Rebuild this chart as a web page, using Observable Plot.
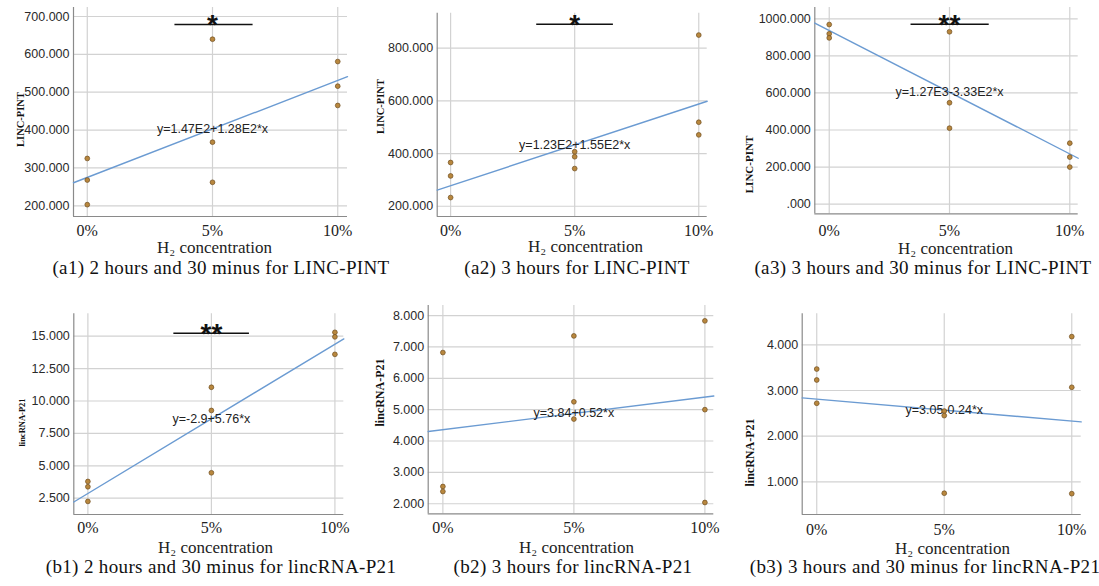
<!DOCTYPE html>
<html>
<head>
<meta charset="utf-8">
<script src="https://cdn.jsdelivr.net/npm/d3@7"></script>
<script src="https://cdn.jsdelivr.net/npm/@observablehq/plot@0.6"></script>
<style>
  html, body { margin: 0; padding: 0; background: #fff; }
  body { width: 1099px; height: 586px; position: relative; overflow: hidden; }
  .panel { position: absolute; }
  .panel svg { display: block; max-width: none; }
  .cap { position: absolute; font-family: "Liberation Serif", serif; font-size: 19px; letter-spacing: 0.35px;
         color: #111; white-space: nowrap; transform: translate(-50%, -50%); line-height: 1; }
  g[aria-label="x-title"] text { letter-spacing: 0.4px; }
</style>
</head>
<body>
<script>
// ---------------- data ----------------
const concentrations = [0, 5, 10];
const xTickLabels = ["0%", "5%", "10%"];
const pointConcentration = [0, 0, 0, 5, 5, 5, 10, 10, 10];

const a1Values = [325, 268, 203, 640, 368, 262, 581, 516, 465];
const a2Values = [366, 315, 233, 407, 388, 343, 850, 519, 471];
const a3Values = [969, 919, 897, 930, 547, 410, 329, 254, 200];
const b1Values = [3.79, 3.38, 2.25, 11.06, 9.27, 4.46, 15.3, 14.95, 13.6];
const b2Values = [6.82, 2.55, 2.39, 7.35, 5.25, 4.70, 7.83, 5.00, 2.04];
const b3Values = [3.47, 3.23, 2.72, 2.55, 2.45, 0.75, 4.18, 3.07, 0.74];

const intercepts = [147, 123, 1270, -2.9, 3.84, 3.05];
const slopes = [128, 155, -333, 5.76, 0.52, -0.24];
const equationLabels = ["y=1.47E2+1.28E2*x", "y=1.23E2+1.55E2*x", "y=1.27E3-3.33E2*x",
                        "y=-2.9+5.76*x", "y=3.84+0.52*x", "y=3.05-0.24*x"];
const significance = ["*", "*", "**", "**", "", ""];

const a1YTicks = [200, 300, 400, 500, 600, 700];
const a2YTicks = [200, 400, 600, 800];
const a3YTicks = [0, 200, 400, 600, 800, 1000];
const b1YTicks = [2.5, 5, 7.5, 10, 12.5, 15];
const b2YTicks = [2, 3, 4, 5, 6, 7, 8];
const b3YTicks = [1, 2, 3, 4];

const yAxisTitles = ["LINC-PINT", "LINC-PINT", "LINC-PINT", "lincRNA-P21", "lincRNA-P21", "lincRNA-P21"];
const xAxisTitle = "H₂ concentration";
const captions = ["(a1) 2 hours and 30 minus for LINC-PINT", "(a2) 3 hours for LINC-PINT",
                  "(a3) 3 hours and 30 minus for LINC-PINT", "(b1) 2 hours and 30 minus for lincRNA-P21",
                  "(b2) 3 hours for lincRNA-P21", "(b3) 3 hours and 30 minus for lincRNA-P21"];

const valuesByPanel = [a1Values, a2Values, a3Values, b1Values, b2Values, b3Values];
const yTicksByPanel = [a1YTicks, a2YTicks, a3YTicks, b1YTicks, b2YTicks, b3YTicks];

// ---------------- layout (page pixels / domains) ----------------
const layout = [
  {left: 0,   top: 0,   width: 360, height: 290, frame: [73, 347, 7, 216],        xDomain: [-0.55, 10.39], yDomain: [171.7, 723.8], yTitle: [20, 119, 10.5], xTitle: [214, 247],   caption: [221, 267], tickPad: 9,    sigBar: [3.48, 6.6, 679]},
  {left: 360, top: 0,   width: 370, height: 290, frame: [436.7, 706.7, 12.7, 216], xDomain: [-0.54, 10.34], yDomain: [161, 933],     yTitle: [380, 106, 10.5], xTitle: [585, 246],  caption: [577, 267], tickPad: 9,    sigBar: [3.45, 6.54, 891]},
  {left: 730, top: 0,   width: 369, height: 290, frame: [814.3, 1077.7, 7, 213.3], xDomain: [-0.6, 10.35],  yDomain: [-52, 1061],     yTitle: [749, 164, 11],   xTitle: [955, 248],  caption: [923, 267], tickPad: 11.5, sigBar: [3.38, 6.63, 971]},
  {left: 0,   top: 290, width: 360, height: 296, frame: [73.3, 343.3, 313.3, 514], xDomain: [-0.57, 10.36], yDomain: [1.24, 16.73],  yTitle: [21.5, 422, 8.5], xTitle: [215, 546.7], caption: [221, 566], tickPad: 8,    sigBar: [3.46, 6.52, 15.23]},
  {left: 360, top: 290, width: 370, height: 296, frame: [427.7, 713.3, 305, 513.3], xDomain: [-0.56, 10.34], yDomain: [1.68, 8.32],  yTitle: [380, 392, 12],   xTitle: [576, 546.7], caption: [573, 566], tickPad: 9,    sigBar: null},
  {left: 730, top: 290, width: 369, height: 296, frame: [801.7, 1080.7, 313.3, 514], xDomain: [-0.57, 10.37], yDomain: [0.284, 4.68], yTitle: [750, 452, 12],  xTitle: [952, 547.7], caption: [925, 566], tickPad: 10,   sigBar: null}
];

const yTickFormat = d => { const s = d.toFixed(3); return s.startsWith("0.") ? s.slice(1) : s; };
const categoryIndex = c => 1 + concentrations.indexOf(5) * c / 5; // 0% -> 1, 5% -> 2, 10% -> 3

layout.forEach((L, i) => {
  const [x0, x1, y0, y1] = L.frame;
  const values = valuesByPanel[i];
  const pts = values.map((v, k) => ({c: pointConcentration[k], v}));
  const fitAt = c => intercepts[i] + slopes[i] * categoryIndex(c);
  const lineData = L.xDomain.map(c => ({c, v: fitAt(c)}));
  const at = (px, py) => ({frameAnchor: "top-left", dx: px - x0, dy: py - y0, textAnchor: "middle", lineAnchor: "middle"});

  const marks = [
    Plot.gridX(concentrations, {stroke: "#d2d2d2", strokeOpacity: 1, strokeWidth: 1.2}),
    Plot.gridY(yTicksByPanel[i], {stroke: "#d2d2d2", strokeOpacity: 1, strokeWidth: 1.2}),
    Plot.ruleX([L.xDomain[0]], {stroke: "#8a8a8a", strokeWidth: 1.2}),
    Plot.ruleY([L.yDomain[0]], {stroke: "#8a8a8a", strokeWidth: 1.2}),
    Plot.axisX(concentrations, {tickSize: 0, tickPadding: L.tickPad - 1, label: null,
      tickFormat: d => xTickLabels[concentrations.indexOf(d)],
      fontSize: 16, fontFamily: "Liberation Serif", color: "#222"}),
    Plot.axisY(yTicksByPanel[i], {tickSize: 0, tickPadding: 4, label: null, tickFormat: yTickFormat,
      fontSize: 12.5, fontFamily: "Liberation Sans", color: "#2a2a2a"}),
    Plot.line(lineData, {x: "c", y: "v", stroke: "#6b9bd2", strokeWidth: 1.4}),
    Plot.text([{c: 5, v: fitAt(5), t: equationLabels[i]}], {x: "c", y: "v", text: "t",
      fontSize: 12.5, fontFamily: "Liberation Sans", fill: "#222"}),
    Plot.dot(pts, {x: "c", y: "v", r: 2.4, fill: "#b8873e", stroke: "#6e4c1c", strokeWidth: 0.7}),
    Plot.text([yAxisTitles[i]], {...at(L.yTitle[0], L.yTitle[1]), rotate: -90,
      fontSize: L.yTitle[2], fontFamily: "Liberation Serif", fontWeight: "bold", fill: "#111"}),
    Plot.text([xAxisTitle], {...at(L.xTitle[0], L.xTitle[1]), ariaLabel: "x-title",
      fontSize: 17, fontFamily: "Liberation Serif", fill: "#222"})
  ];
  if (L.sigBar && significance[i]) {
    const [s1, s2, sy] = L.sigBar;
    marks.push(Plot.link([{s1, s2, sy}], {x1: "s1", x2: "s2", y1: "sy", y2: "sy", stroke: "#111", strokeWidth: 1.6}));
    marks.push(Plot.text([{c: 5, sy, t: significance[i]}], {x: "c", y: "sy", text: "t", fontSize: 28,
      fontWeight: "bold", fontFamily: "Liberation Sans", fill: "#111", lineAnchor: "middle", dy: 1}));
  }

  const svg = Plot.plot({
    width: L.width, height: L.height,
    marginLeft: x0 - L.left, marginRight: L.left + L.width - x1,
    marginTop: y0 - L.top, marginBottom: L.top + L.height - y1,
    x: {domain: L.xDomain, axis: null},
    y: {domain: L.yDomain, axis: null},
    style: {background: "transparent", overflow: "visible"},
    marks
  });
  const div = document.createElement("div");
  div.className = "panel";
  div.style.left = L.left + "px";
  div.style.top = L.top + "px";
  div.style.width = L.width + "px";
  div.style.height = L.height + "px";
  div.appendChild(svg);
  document.body.appendChild(div);

  const cap = document.createElement("div");
  cap.className = "cap";
  cap.textContent = captions[i];
  cap.style.left = L.caption[0] + "px";
  cap.style.top = L.caption[1] + "px";
  document.body.appendChild(cap);
});
</script>
</body>
</html>
